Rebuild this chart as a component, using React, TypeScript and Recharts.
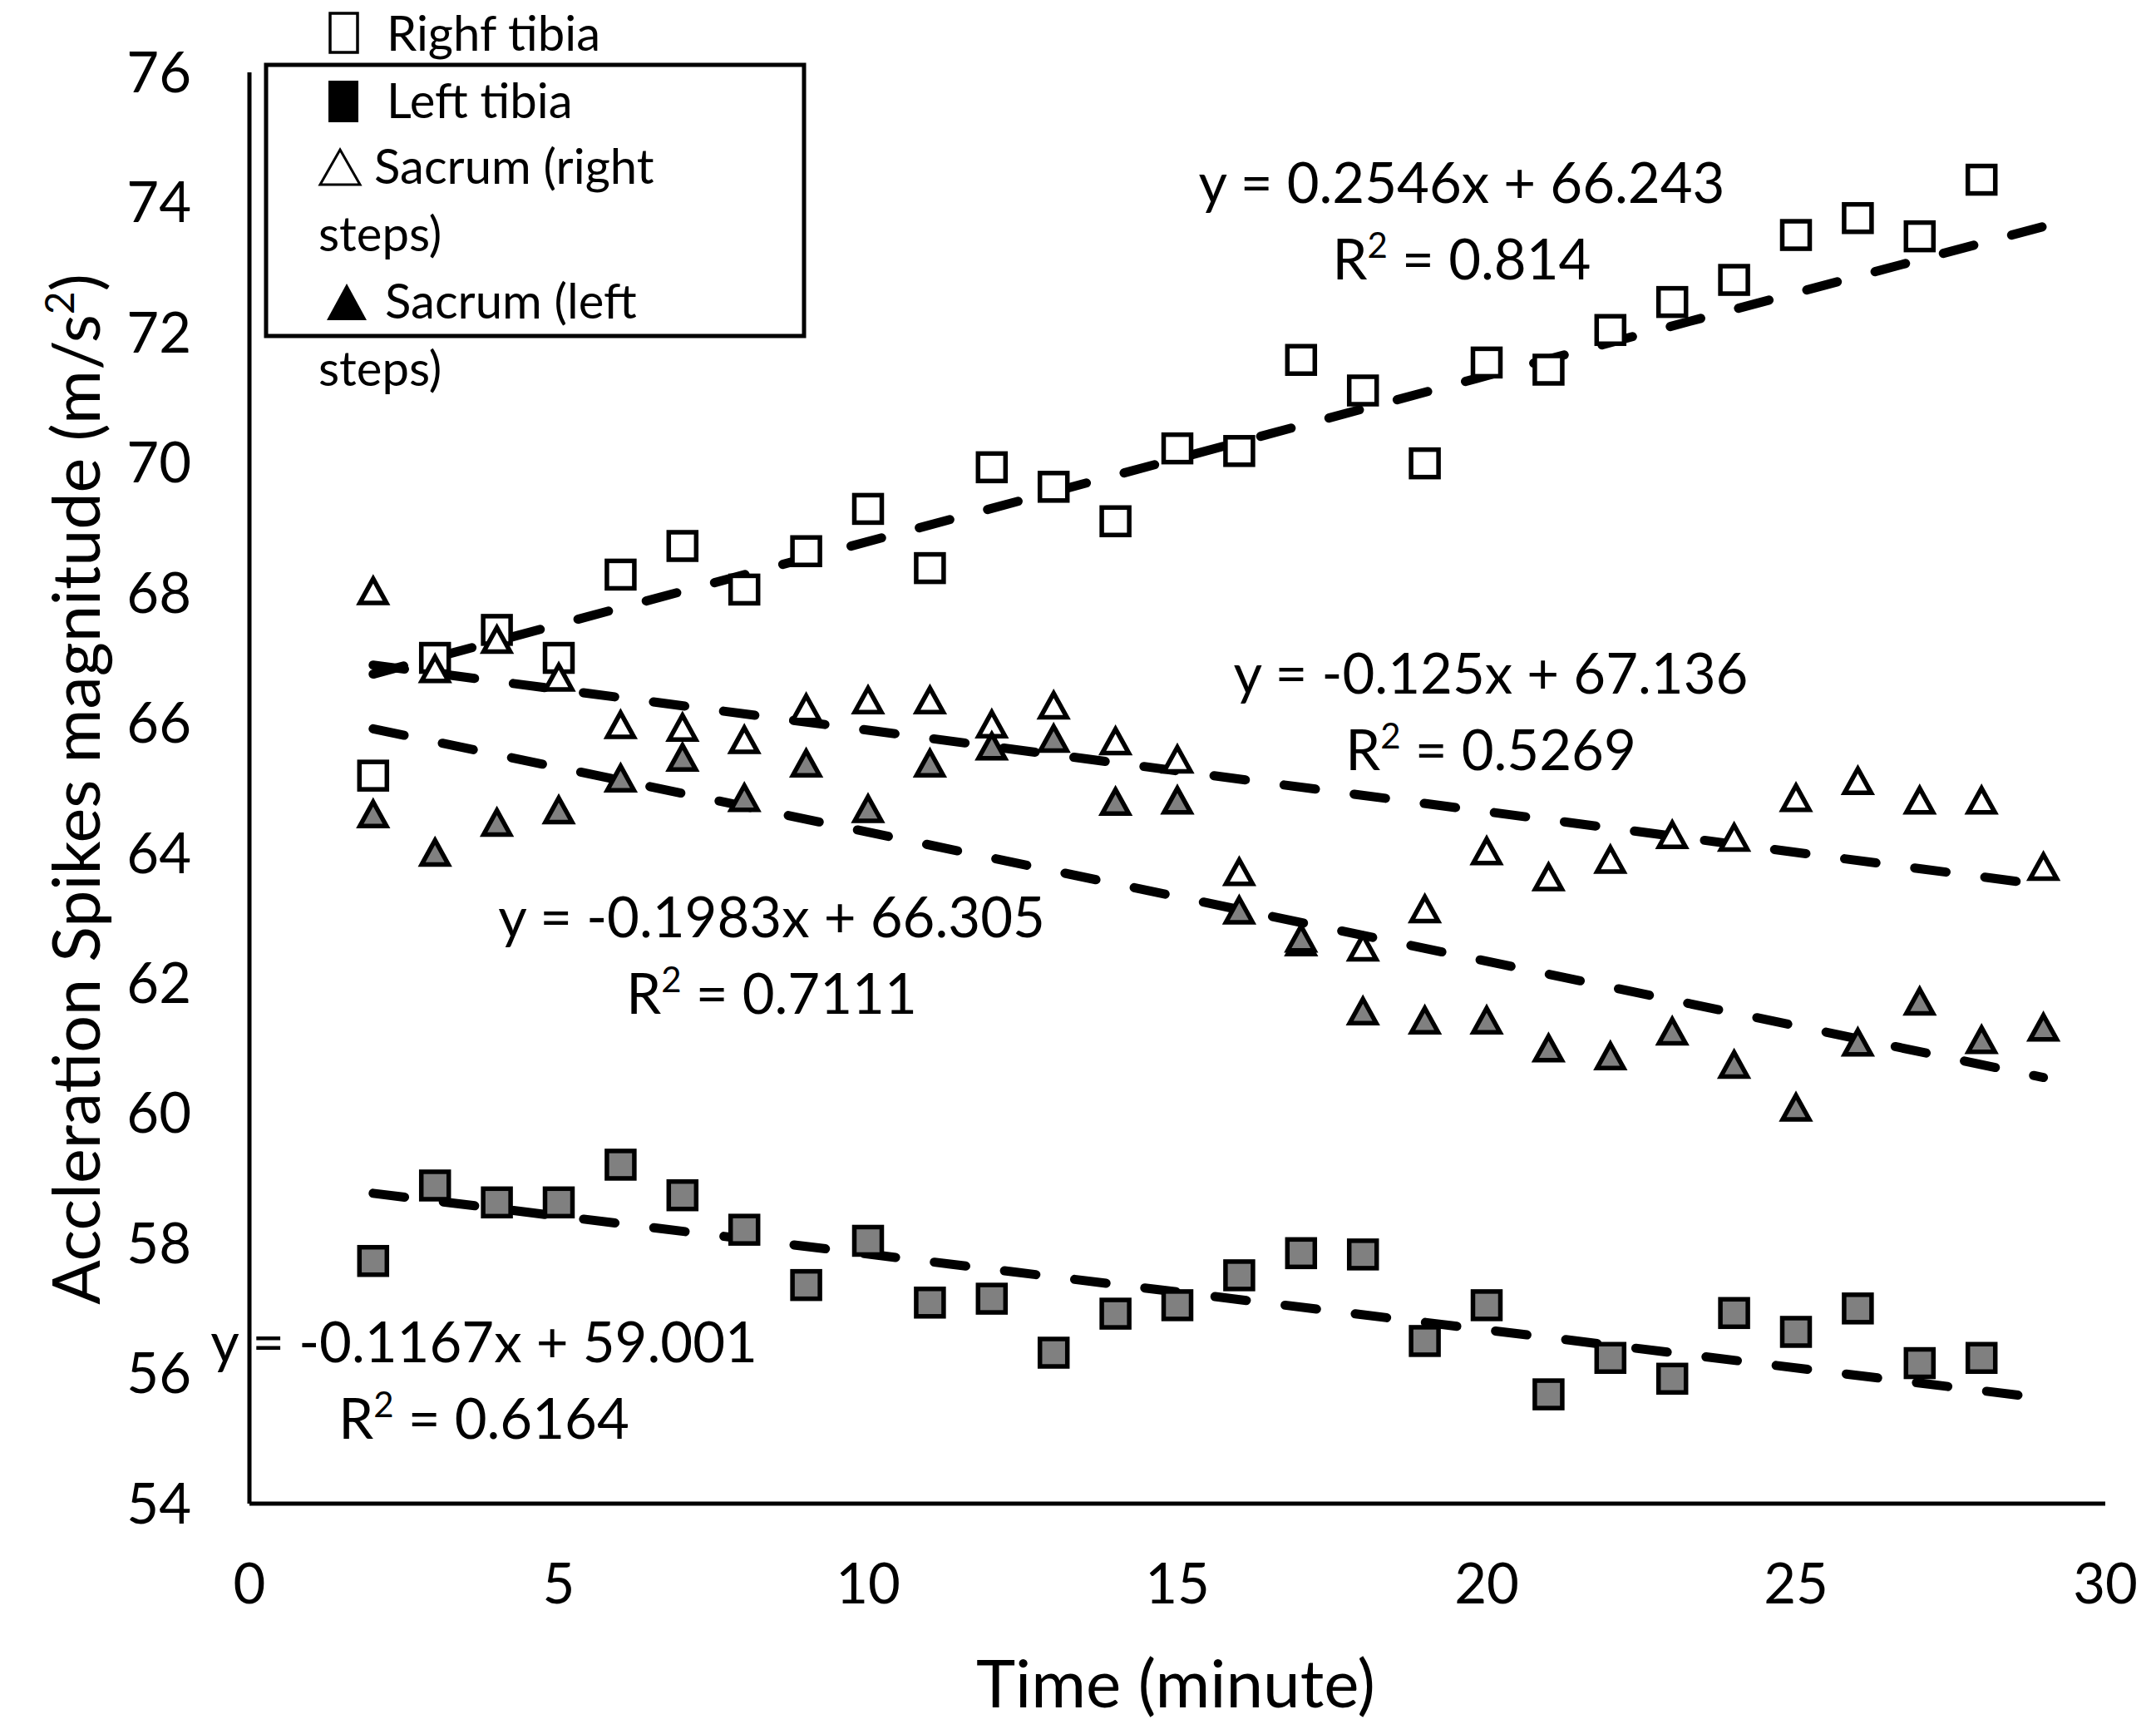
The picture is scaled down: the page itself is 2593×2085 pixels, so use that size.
import React from "react";
import { ScatterChart, Scatter, XAxis, YAxis, ReferenceLine, Customized } from "recharts";

const FONT = "Lato, 'Open Sans', sans-serif";

// time in minutes (x values)
const MINUTES = [2, 3, 4, 5, 6, 7, 8, 9, 10, 11, 12, 13, 14, 15, 16, 17, 18, 19, 20, 21, 22, 23, 24, 25, 26, 27, 28, 29];

const RIGHT_TIBIA = [65.19, 67.0, 67.43, 67.0, 68.28, 68.72, 68.05, 68.64, 69.29, 68.38, 69.93, 69.63, 69.1, 70.22, 70.18, 71.58, 71.11, 69.99, 71.54, 71.43, 72.04, 72.47, 72.81, 73.5, 73.76, 73.48, 74.35];
const LEFT_TIBIA = [57.73, 58.89, 58.63, 58.63, 59.21, 58.74, 58.21, 57.36, 58.04, 57.09, 57.15, 56.32, 56.92, 57.05, 57.51, 57.85, 57.83, 56.5, 57.05, 55.68, 56.24, 55.92, 56.93, 56.64, 57.0, 56.16, 56.24];
const SACRUM_RIGHT = [68.05, 66.85, 67.3, 66.72, 65.99, 65.95, 65.76, 66.25, 66.37, 66.37, 66.0, 66.29, 65.74, 65.46, 63.73, 62.65, 62.57, 63.16, 64.05, 63.65, 63.92, 64.3, 64.26, 64.87, 65.13, 64.83, 64.83, 63.81];
const SACRUM_LEFT = [64.62, 64.03, 64.49, 64.68, 65.17, 65.49, 64.87, 65.4, 64.7, 65.4, 65.66, 65.78, 64.81, 64.83, 63.14, 62.71, 61.59, 61.45, 61.45, 61.02, 60.9, 61.28, 60.77, 60.11, 61.11, 61.74, 61.15, 61.34];

const SERIES_NAMES = ["Righf tibia", "Left tibia", "Sacrum (right steps)", "Sacrum (left steps)"];

// trendline ends, read at x = 2 and x = 29
const TREND_X = [2, 29];
const TREND_START = [66.75, 58.77, 66.89, 65.91];
const TREND_END = [73.63, 55.62, 63.51, 60.55];
const TREND_EQ = ["y = 0.2546x + 66.243", "y = -0.1167x + 59.001", "y = -0.125x + 67.136", "y = -0.1983x + 66.305"];
const TREND_R2 = ["0.814", "0.6164", "0.5269", "0.7111"];

const X_TICKS = [0, 5, 10, 15, 20, 25, 30];
const Y_TICKS = [54, 56, 58, 60, 62, 64, 66, 68, 70, 72, 74, 76];

const GRAY = "#808080";

const toPoints = (vals: number[]) => vals.map((y, i) => ({ x: MINUTES[i], y }));

function squareShape(fill: string) {
  return (p: any) => {
    const { cx, cy } = p;
    if (cx == null || cy == null) return null;
    return <rect x={cx - 16.5} y={cy - 16.5} width={33} height={33} fill={fill} stroke="#000" strokeWidth={5.5} />;
  };
}

function triangleShape(fill: string) {
  return (p: any) => {
    const { cx, cy } = p;
    if (cx == null || cy == null) return null;
    return (
      <path
        d={`M${cx},${cy - 13} L${cx + 16},${cy + 16} L${cx - 16},${cy + 16} Z`}
        fill={fill}
        stroke="#000"
        strokeWidth={5.5}
      />
    );
  };
}

// equation label placement (pixel centre x, first baseline)
const EQ_POS = [
  { x: 1758, y: 244 },
  { x: 582, y: 1638 },
  { x: 1793, y: 834 },
  { x: 928, y: 1127 },
];

function Annotations() {
  const legendText = { fontSize: 58, fontFamily: FONT, fill: "#000" };
  return (
    <g>
      {/* equations */}
      {TREND_EQ.map((eq, i) => (
        <g key={eq} fontFamily={FONT} fontSize={67} fill="#000" textAnchor="middle">
          <text x={EQ_POS[i].x} y={EQ_POS[i].y}>{eq}</text>
          <text x={EQ_POS[i].x} y={EQ_POS[i].y + 92}>
            R<tspan fontSize={42} dy={-26}>2</tspan>
            <tspan dy={26}>{" = " + TREND_R2[i]}</tspan>
          </text>
        </g>
      ))}

      {/* legend */}
      <rect x={320} y={78} width={647} height={326} fill="none" stroke="#000" strokeWidth={5} />
      <rect x={397} y={16} width={33} height={47} fill="#fff" stroke="#000" strokeWidth={3.5} />
      <text x={465} y={61} {...legendText}>{SERIES_NAMES[0]}</text>
      <rect x={395} y={97} width={36} height={50} fill="#000" />
      <text x={465} y={142} {...legendText}>{SERIES_NAMES[1]}</text>
      <path d="M409,180 L433,222 L385,222 Z" fill="#fff" stroke="#000" strokeWidth={3} />
      <text x={450} y={221} {...legendText}>Sacrum (right</text>
      <text x={383} y={302} {...legendText}>steps)</text>
      <path d="M417,341 L441,385 L393,385 Z" fill="#000" />
      <text x={463} y={383} {...legendText}>Sacrum (left</text>
      <text x={383} y={464} {...legendText}>steps)</text>

      {/* axis titles */}
      <text x={1414} y={2053} textAnchor="middle" fontSize={80} fontFamily={FONT} fill="#000">
        Time (minute)
      </text>
      <text
        x={120}
        y={949}
        transform="rotate(-90 120 949)"
        textAnchor="middle"
        fontSize={79}
        fontFamily={FONT}
        fill="#000"
      >
        Accleration Spikes magnitude (m/s<tspan fontSize={48} dy={-31}>2</tspan>
        <tspan dy={31}>)</tspan>
      </text>
    </g>
  );
}

export default function App() {
  const tick = { fontSize: 67, fill: "#000", fontFamily: FONT };
  const series = [
    { data: toPoints(RIGHT_TIBIA), shape: squareShape("#fff") },
    { data: toPoints(LEFT_TIBIA), shape: squareShape(GRAY) },
    { data: toPoints(SACRUM_RIGHT), shape: triangleShape("#fff") },
    { data: toPoints(SACRUM_LEFT), shape: triangleShape(GRAY) },
  ];
  return (
    <div style={{ position: "absolute", left: 0, top: 0, width: 2593, height: 2085, background: "#fff", fontFamily: FONT }}>
      <ScatterChart width={2593} height={2085} margin={{ top: 87, right: 61, bottom: 77, left: 60 }}>
        <XAxis
          type="number"
          dataKey="x"
          domain={[0, 30]}
          ticks={X_TICKS}
          interval={0}
          tickLine={false}
          tickSize={0}
          tickMargin={72}
          height={200}
          axisLine={{ stroke: "#000", strokeWidth: 5 }}
          tick={tick}
        />
        <YAxis
          type="number"
          dataKey="y"
          domain={[54, 76]}
          ticks={Y_TICKS}
          interval={0}
          tickLine={false}
          tickSize={0}
          tickMargin={70}
          width={240}
          axisLine={{ stroke: "#000", strokeWidth: 5 }}
          tick={tick}
        />
        {series.map((s, i) => (
          <Scatter key={SERIES_NAMES[i]} name={SERIES_NAMES[i]} data={s.data} shape={s.shape} isAnimationActive={false} />
        ))}
        {TREND_START.map((y0, i) => (
          <ReferenceLine
            key={"trend" + i}
            segment={[
              { x: TREND_X[0], y: y0 },
              { x: TREND_X[1], y: TREND_END[i] },
            ]}
            stroke="#000"
            strokeWidth={11}
            strokeDasharray="38 47"
            strokeLinecap="round"
          />
        ))}
        <Customized component={Annotations} />
      </ScatterChart>
    </div>
  );
}
